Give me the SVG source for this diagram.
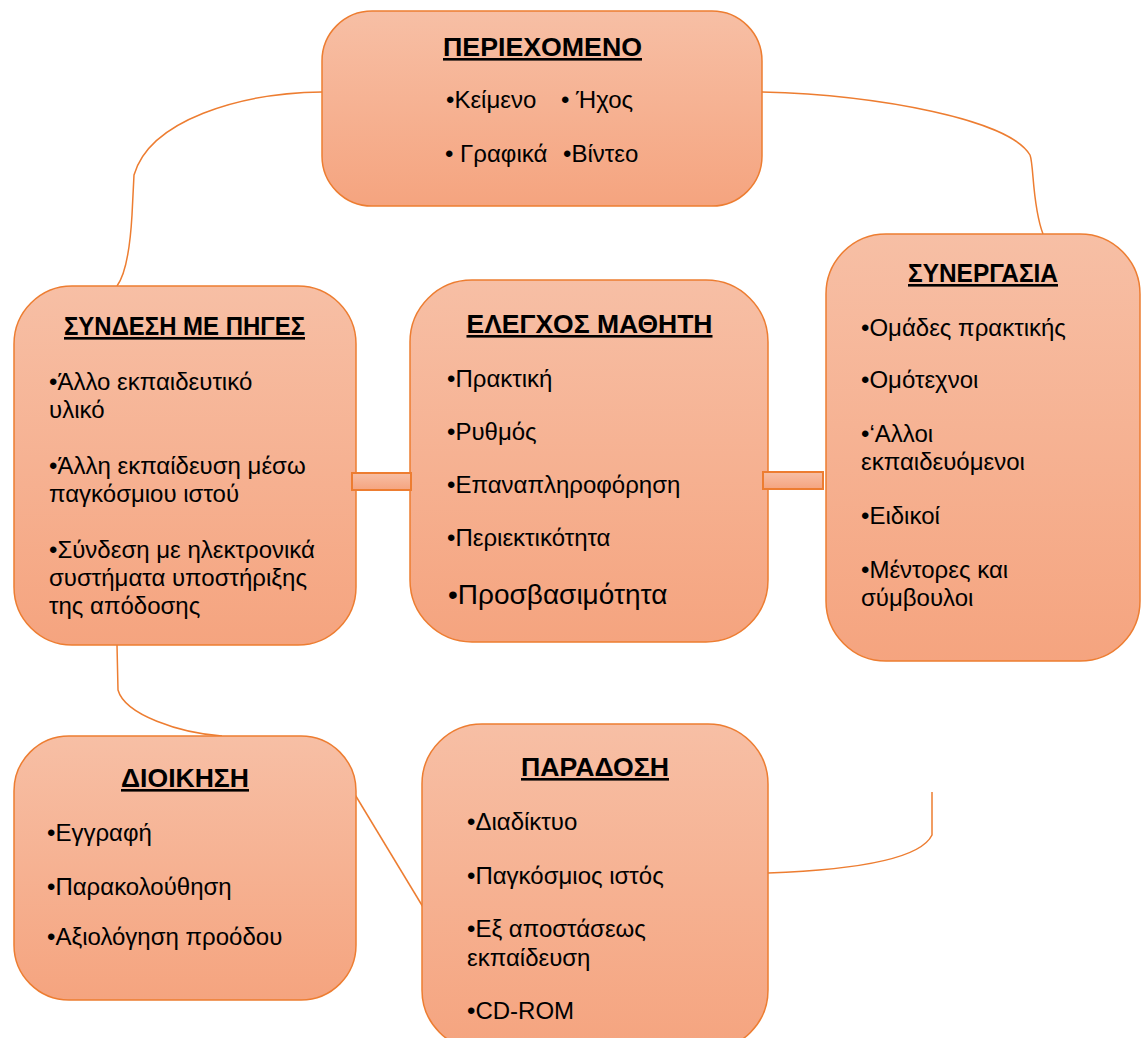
<svg xmlns="http://www.w3.org/2000/svg" width="1141" height="1038" viewBox="0 0 1141 1038">
<defs>
<linearGradient id="g" x1="0" y1="0" x2="0" y2="1">
<stop offset="0" stop-color="#F7BFA5"/>
<stop offset="1" stop-color="#F5A47F"/>
</linearGradient>
<style>
.box{fill:url(#g);stroke:#ED7D31;stroke-width:1.5}
.bar{fill:url(#g);stroke:#ED7D31;stroke-width:2}
.ln{fill:none;stroke:#ED7D31;stroke-width:1.5}
.t{font-family:"Liberation Sans",Arial,sans-serif;font-weight:bold;font-size:26px;text-anchor:middle;text-decoration:underline;fill:#000}
.i{font-family:"Liberation Sans",Arial,sans-serif;font-size:24px;fill:#000}
</style>
</defs>
<rect width="1141" height="1038" fill="#fff"/>
<g id="connectors">
<path class="ln" d="M322,92 C240,93 150,120 134,175 L132,215 C130,250 125,275 117,286"/>
<path class="ln" d="M762,92 C880,95 1010,120 1030,155 C1034,165 1032,205 1043,234"/>
<path class="ln" d="M117,645 L118,690 C125,715 180,733 222,736"/>
<path class="ln" d="M354,793 L423,907"/>
<path class="ln" d="M768,873 C850,870 920,860 932,835 L932,792"/>
</g>
<g id="n-periexomeno">
<rect class="box" x="322" y="11" width="440" height="195" rx="50"/>
<text class="t" x="542.5" y="56" textLength="199" lengthAdjust="spacingAndGlyphs">ΠΕΡΙΕΧΟΜΕΝΟ</text>
<text class="i" x="446" y="108">•Κείμενο</text>
<text class="i" x="561" y="108">• Ήχος</text>
<text class="i" x="445" y="162">• Γραφικά</text>
<text class="i" x="563" y="162">•Βίντεο</text>
</g>
<g id="n-syndesi">
<rect class="box" x="14" y="286" width="342" height="359" rx="58"/>
<text class="t" x="184.5" y="335" textLength="241" lengthAdjust="spacingAndGlyphs">ΣΥΝΔΕΣΗ ΜΕ ΠΗΓΕΣ</text>
<text class="i" x="49" y="390">•Άλλο εκπαιδευτικό</text>
<text class="i" x="49" y="418">υλικό</text>
<text class="i" x="49" y="474">•Άλλη εκπαίδευση μέσω</text>
<text class="i" x="49" y="502">παγκόσμιου  ιστού</text>
<text class="i" x="49" y="558">•Σύνδεση με ηλεκτρονικά</text>
<text class="i" x="49" y="586">συστήματα υποστήριξης</text>
<text class="i" x="49" y="614">της απόδοσης</text>
</g>
<g id="n-elegxos">
<rect class="box" x="410" y="280" width="358" height="362" rx="62"/>
<text class="t" x="589.5" y="333" textLength="246" lengthAdjust="spacingAndGlyphs">ΕΛΕΓΧΟΣ ΜΑΘΗΤΗ</text>
<text class="i" x="447" y="387">•Πρακτική</text>
<text class="i" x="447" y="440">•Ρυθμός</text>
<text class="i" x="447" y="493">•Επαναπληροφόρηση</text>
<text class="i" x="447" y="546">•Περιεκτικότητα</text>
<text class="i" x="448" y="604" style="font-size:28px">•Προσβασιμότητα</text>
</g>
<g id="n-synergasia">
<rect class="box" x="826" y="234" width="314" height="427" rx="60"/>
<text class="t" x="983" y="282" textLength="150" lengthAdjust="spacingAndGlyphs">ΣΥΝΕΡΓΑΣΙΑ</text>
<text class="i" x="861" y="336">•Ομάδες πρακτικής</text>
<text class="i" x="861" y="388">•Ομότεχνοι</text>
<text class="i" x="861" y="442">•‘Αλλοι</text>
<text class="i" x="861" y="470">εκπαιδευόμενοι</text>
<text class="i" x="861" y="524">•Ειδικοί</text>
<text class="i" x="861" y="578">•Μέντορες και</text>
<text class="i" x="861" y="606">σύμβουλοι</text>
</g>
<g id="n-dioikisi">
<rect class="box" x="14" y="736" width="342" height="264" rx="55"/>
<text class="t" x="185" y="787" textLength="128" lengthAdjust="spacingAndGlyphs">ΔΙΟΙΚΗΣΗ</text>
<text class="i" x="47" y="841">•Εγγραφή</text>
<text class="i" x="47" y="895">•Παρακολούθηση</text>
<text class="i" x="47" y="945">•Αξιολόγηση προόδου</text>
</g>
<g id="n-paradosi">
<rect class="box" x="422" y="724" width="346" height="326" rx="60"/>
<text class="t" x="595" y="776" textLength="148" lengthAdjust="spacingAndGlyphs">ΠΑΡΑΔΟΣΗ</text>
<text class="i" x="467" y="830">•Διαδίκτυο</text>
<text class="i" x="467" y="884">•Παγκόσμιος ιστός</text>
<text class="i" x="467" y="937">•Εξ αποστάσεως</text>
<text class="i" x="467" y="966">εκπαίδευση</text>
<text class="i" x="467" y="1019">•CD-ROM</text>
</g>
<g id="bars">
<rect class="bar" x="352" y="473" width="59" height="17"/>
<rect class="bar" x="763" y="472" width="60" height="17"/>
</g>
</svg>
